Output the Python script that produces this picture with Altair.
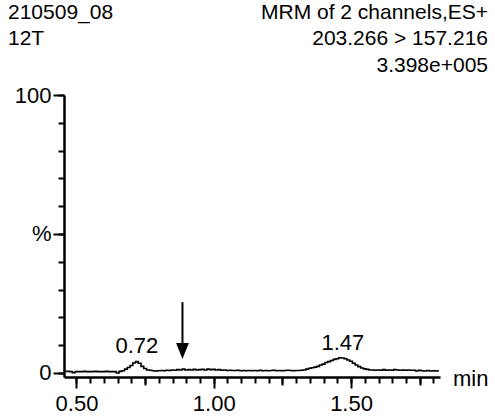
import altair as alt
import pandas as pd

# Chromatogram trace: retention time (min) and relative intensity (%)
times = [round(0.46 + 0.01 * i, 2) for i in range(137)]
intensity = [
    0.6, 0.6, 0.5, 0.1, 0.5, 0.5, 0.5, 0.6, 0.5, 0.5,   # 0.46-0.55
    0.5, 0.6, 0.5, 0.5, 0.5, 0.6, 0.5, 0.5, 0.5, 0.0,   # 0.56-0.65
    0.6, 0.8, 1.4, 2.0, 2.7, 3.6, 4.1, 3.5, 2.4, 1.6,   # 0.66-0.75
    1.1, 1.0, 0.8, 0.7, 0.8, 0.9, 0.8, 1.0, 0.9, 1.1,   # 0.76-0.85
    1.0, 1.2, 1.1, 1.4, 1.1, 1.2, 1.1, 1.3, 1.1, 1.2,   # 0.86-0.95
    1.3, 1.1, 1.4, 1.2, 1.3, 1.1, 1.2, 1.0, 1.1, 0.9,   # 0.96-1.05
    1.0, 0.9, 0.9, 1.0, 0.8, 0.9, 0.8, 0.9, 0.8, 0.9,   # 1.06-1.15
    0.8, 1.0, 0.8, 0.9, 0.8, 0.9, 1.0, 0.8, 0.9, 0.8,   # 1.16-1.25
    0.9, 1.0, 0.9, 0.8, 0.9, 0.9, 1.0, 1.1, 1.4, 1.7,   # 1.26-1.35
    1.9, 2.1, 2.4, 2.9, 3.2, 3.8, 4.1, 4.5, 4.9, 5.1,   # 1.36-1.45
    5.5, 5.4, 5.1, 4.7, 4.2, 3.5, 2.9, 2.3, 1.8, 1.5,   # 1.46-1.55
    1.3, 1.1, 1.1, 1.0, 1.1, 1.0, 1.2, 1.0, 1.1, 1.0,   # 1.56-1.65
    1.2, 1.1, 1.0, 1.1, 1.0, 1.1, 1.0, 1.0, 0.7, 1.0,   # 1.66-1.75
    0.8, 0.7, 0.9, 0.7, 0.8, 0.7, 0.8,                  # 1.76-1.82
]

# Annotated peaks (apex time, label baseline height in %)
peak_times = [0.72, 1.47]
peak_label_y = [7.1, 8.3]

# Arrow marking the expected retention time
arrow_time = [0.886]
arrow_tail = [25.5]
arrow_head_base = [10.8]
arrow_head_center = [7.9]

# Header lines
header_left = ["210509_08", "12T"]
header_right = ["MRM of 2 channels,ES+", "203.266 > 157.216", "3.398e+005"]

# Axis tick positions
x_major = [0.5, 1.0, 1.5]
x_mid = [0.75, 1.25, 1.75]
x_minor = [round(0.5 + 0.05 * i, 2) for i in range(27)]
y_major = [0, 50, 100]
y_minor = list(range(0, 101, 10))

FONT = "Liberation Sans"
FS = 22

x_scale = alt.Scale(domain=[0.4545, 1.824], nice=False, zero=False)
y_scale = alt.Scale(domain=[-1.44, 100], nice=False, zero=False)


def tick_axis(values, size, orient, labels=False, **kw):
    return alt.Axis(
        values=values,
        orient=orient,
        title=None,
        grid=False,
        domain=labels,
        domainColor="black",
        domainWidth=2.5,
        tickColor="black",
        tickWidth=2,
        tickSize=size,
        labels=labels,
        labelFont=FONT,
        labelFontSize=FS,
        labelColor="black",
        labelFlush=False,
        labelOverlap=False,
        **kw,
    )


x_axis_major = tick_axis(x_major, 11, "bottom", labels=True, format=".2f", labelPadding=5)
x_axis_mid = tick_axis(x_mid, 8, "bottom")
x_axis_minor = tick_axis(x_minor, 6, "bottom")
y_axis_major = tick_axis(
    y_major, 11, "left", labels=True, labelPadding=2,
    labelExpr="datum.value == 50 ? '%' : datum.label",
)
y_axis_minor = tick_axis(y_minor, 6, "left")

trace_df = pd.DataFrame({"t": times, "pct": intensity})
trace = alt.Chart(trace_df).mark_line(
    color="black", strokeWidth=1.6, interpolate="step"
).encode(
    x=alt.X("t:Q", scale=x_scale, axis=x_axis_major),
    y=alt.Y("pct:Q", scale=y_scale, axis=y_axis_major),
)

peaks_df = pd.DataFrame({"t": peak_times, "y": peak_label_y})
peak_text = alt.Chart(peaks_df).mark_text(
    font=FONT, fontSize=FS, color="black", baseline="alphabetic", align="center"
).encode(
    x=alt.X("t:Q", scale=x_scale, axis=x_axis_minor),
    y=alt.Y("y:Q", scale=y_scale, axis=y_axis_minor),
    text=alt.Text("t:Q", format=".2f"),
)

arrow_df = pd.DataFrame({
    "t": arrow_time, "tail": arrow_tail, "base": arrow_head_base, "head": arrow_head_center,
})
arrow_shaft = alt.Chart(arrow_df).mark_rule(color="black", strokeWidth=2).encode(
    x=alt.X("t:Q", scale=x_scale, axis=x_axis_mid),
    y=alt.Y("tail:Q", scale=y_scale, axis=None),
    y2="base:Q",
)
arrow_head = alt.Chart(arrow_df).mark_point(
    shape="M-0.8,-1L0.8,-1L0,1Z", filled=True, color="black", opacity=1, size=256, strokeWidth=0
).encode(
    x=alt.X("t:Q", scale=x_scale, axis=None),
    y=alt.Y("head:Q", scale=y_scale, axis=None),
)

HFS = 21
hl_df = pd.DataFrame({"txt": header_left})
hl_df["py"] = [-76.0, -50.3]
head_left = alt.Chart(hl_df).mark_text(
    font=FONT, fontSize=HFS, color="black", align="left", baseline="alphabetic"
).encode(
    x=alt.value(-56),
    y=alt.Y("py:Q", scale=None),
    text="txt:N",
)

hr_df = pd.DataFrame({"txt": header_right})
hr_df["py"] = [-76.0, -50.3, -23.0]
head_right = alt.Chart(hr_df).mark_text(
    font=FONT, fontSize=HFS, color="black", align="right", baseline="alphabetic"
).encode(
    x=alt.value(424),
    y=alt.Y("py:Q", scale=None),
    text="txt:N",
)

unit_label = alt.Chart(pd.DataFrame({"txt": ["min"]})).mark_text(
    font=FONT, fontSize=FS, color="black", align="left", baseline="alphabetic"
).encode(
    x=alt.value(389),
    y=alt.value(291),
    text="txt:N",
)

chart = alt.layer(
    trace, peak_text, arrow_shaft, arrow_head, head_left, head_right, unit_label
).resolve_axis(
    x="independent", y="independent"
).properties(
    width=376,
    height=282,
    autosize=alt.AutoSizeParams(type="none"),
    padding={"left": 64, "top": 95, "right": 55, "bottom": 39},
    background="white",
).configure_view(stroke=None)

chart.save("out.html", embed_options={"renderer": "svg", "actions": False})
